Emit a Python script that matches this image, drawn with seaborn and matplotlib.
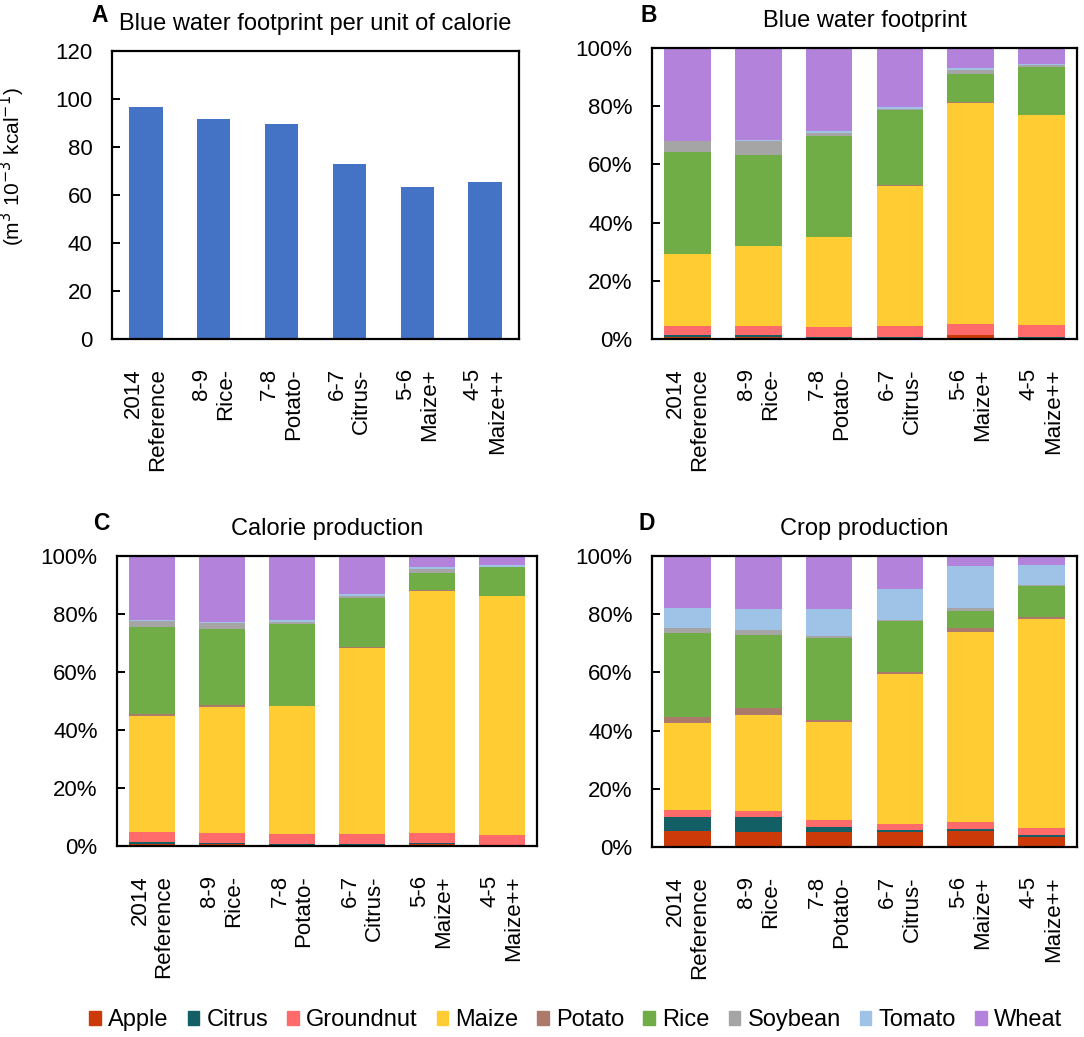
import matplotlib
matplotlib.use("Agg")
import matplotlib.pyplot as plt
import matplotlib.patches as mpatches
import seaborn as sns

plt.rcParams['font.family'] = ['Liberation Sans', 'DejaVu Sans']

# scenarios (x axis) and crops (stack order, bottom -> top)
scenarios = ["2014\nReference", "8-9\nRice-", "7-8\nPotato-", "6-7\nCitrus-", "5-6\nMaize+", "4-5\nMaize++"]
crops = ["Apple", "Citrus", "Groundnut", "Maize", "Potato", "Rice", "Soybean", "Tomato", "Wheat"]
crop_colors = ["#CC3A0A", "#135F66", "#FF6B6B", "#FFCC33", "#AC7A6B", "#70AD47", "#A5A5A5", "#9FC3E6", "#B383DB"]

# panel A: blue water footprint per unit of calorie (m3 10-3 kcal-1)
wf_per_cal = [96.7, 91.8, 89.7, 73.0, 63.2, 65.3]

# panel B: blue water footprint shares (%), one list per crop
bwf_apple = [0.6, 0.6, 0.5, 0.5, 1.4, 0.5]
bwf_citrus = [0.8, 0.8, 0.3, 0.3, 0.1, 0.1]
bwf_groundnut = [3.2, 3.1, 3.3, 3.7, 3.5, 4.3]
bwf_maize = [24.5, 27.3, 30.9, 48.1, 76.1, 72.1]
bwf_potato = [0.2, 0.2, 0.2, 0.3, 0.3, 0.1]
bwf_rice = [34.8, 31.4, 34.4, 25.7, 9.5, 16.4]
bwf_soybean = [3.8, 4.8, 1.2, 0.6, 1.6, 0.5]
bwf_tomato = [0.3, 0.2, 0.6, 0.6, 0.7, 0.6]
bwf_wheat = [31.8, 31.6, 28.6, 20.2, 6.8, 5.4]

# panel C: calorie production shares (%)
cal_apple = [0.7, 0.7, 0.5, 0.5, 0.7, 0.3]
cal_citrus = [0.7, 0.3, 0.3, 0.2, 0.3, 0.1]
cal_groundnut = [3.4, 3.5, 3.4, 3.4, 3.4, 3.5]
cal_maize = [40.1, 43.6, 44.0, 64.3, 83.5, 82.3]
cal_potato = [0.6, 0.5, 0.2, 0.3, 0.3, 0.1]
cal_rice = [29.9, 26.3, 28.2, 16.9, 5.9, 9.8]
cal_soybean = [2.1, 1.9, 0.7, 0.6, 1.3, 0.1]
cal_tomato = [0.6, 0.6, 0.8, 0.6, 0.7, 0.6]
cal_wheat = [21.9, 22.6, 21.9, 13.2, 3.9, 3.2]

# panel D: crop production shares (%)
prod_apple = [5.5, 5.2, 5.0, 5.2, 5.6, 3.3]
prod_citrus = [4.8, 5.0, 1.8, 0.6, 0.7, 0.7]
prod_groundnut = [2.3, 2.0, 2.4, 2.2, 2.2, 2.5]
prod_maize = [29.9, 33.1, 33.9, 51.5, 65.4, 71.8]
prod_potato = [2.3, 2.4, 0.7, 0.6, 1.4, 0.6]
prod_rice = [28.6, 25.2, 27.9, 17.4, 5.9, 10.7]
prod_soybean = [1.7, 1.8, 0.7, 0.4, 0.8, 0.3]
prod_tomato = [7.2, 7.1, 9.4, 10.6, 14.7, 7.0]
prod_wheat = [17.7, 18.2, 18.2, 11.5, 3.3, 3.1]

bwf = [bwf_apple, bwf_citrus, bwf_groundnut, bwf_maize, bwf_potato, bwf_rice, bwf_soybean, bwf_tomato, bwf_wheat]
cal = [cal_apple, cal_citrus, cal_groundnut, cal_maize, cal_potato, cal_rice, cal_soybean, cal_tomato, cal_wheat]
prod = [prod_apple, prod_citrus, prod_groundnut, prod_maize, prod_potato, prod_rice, prod_soybean, prod_tomato, prod_wheat]

W, H = 1084, 1037
fig = plt.figure(figsize=(W / 100, H / 100), dpi=100)


def add_ax(left, top, right, bottom):
    return fig.add_axes([left / W, 1 - bottom / H, (right - left) / W, (bottom - top) / H])


def style_ax(ax, title, letter, lx, ly):
    for s in ax.spines.values():
        s.set_visible(True)
        s.set_color("black")
        s.set_linewidth(1.6)
    ax.tick_params(axis="y", direction="in", length=6, width=1.4, labelsize=16, pad=14)
    ax.tick_params(axis="x", length=0, labelsize=16, pad=21, labelrotation=90)
    for lbl in ax.get_xticklabels():
        lbl.set_multialignment("right")
    ax.set_xlabel("")
    ax.set_xlim(-0.5, 5.5)
    ax.set_title(title, fontsize=17, pad=15)
    fig.text(lx / W, 1 - ly / H, letter, fontsize=16.5, fontweight="bold", ha="left", va="baseline")


def stacked(ax, shares):
    # cumulative totals, drawn from the top layer down so each overlays the next
    cum = []
    run = [0.0] * len(scenarios)
    for s in shares:
        run = [a + b for a, b in zip(run, s)]
        cum.append(run)
    for i in reversed(range(len(crops))):
        sns.barplot(x=scenarios, y=cum[i], color=crop_colors[i], saturation=1,
                    width=0.66, ax=ax, linewidth=0)
    ax.set_ylim(0, 100)
    ax.set_yticks([0, 20, 40, 60, 80, 100])
    ax.set_yticklabels(["0%", "20%", "40%", "60%", "80%", "100%"])


# A
axA = add_ax(112, 51, 519, 339)
sns.barplot(x=scenarios, y=wf_per_cal, color="#4472C4", saturation=1, width=0.49, ax=axA, linewidth=0)
axA.set_ylim(0, 120)
axA.set_yticks(range(0, 121, 20))
axA.set_ylabel("(m$^3$ 10$^{-3}$ kcal$^{-1}$)", fontsize=15)
axA.yaxis.set_label_coords(-0.208, 0.60)
style_ax(axA, "Blue water footprint per unit of calorie", "A", 91, 22)

# B
axB = add_ax(652, 48, 1077, 339)
stacked(axB, bwf)
style_ax(axB, "Blue water footprint", "B", 640, 22)

# C
axC = add_ax(117, 556, 537, 846)
stacked(axC, cal)
style_ax(axC, "Calorie production", "C", 93, 530)

# D
axD = add_ax(652, 556, 1077, 847)
stacked(axD, prod)
style_ax(axD, "Crop production", "D", 638, 530)

handles = [mpatches.Patch(color=c, label=n) for c, n in zip(crop_colors, crops)]
fig.legend(handles=handles, loc="center", bbox_to_anchor=(0.531, 0.016), ncol=9,
           frameon=False, fontsize=17, handlelength=0.5, handleheight=0.5,
           handletextpad=0.3, columnspacing=0.8)

fig.savefig("out.png", dpi=100)
